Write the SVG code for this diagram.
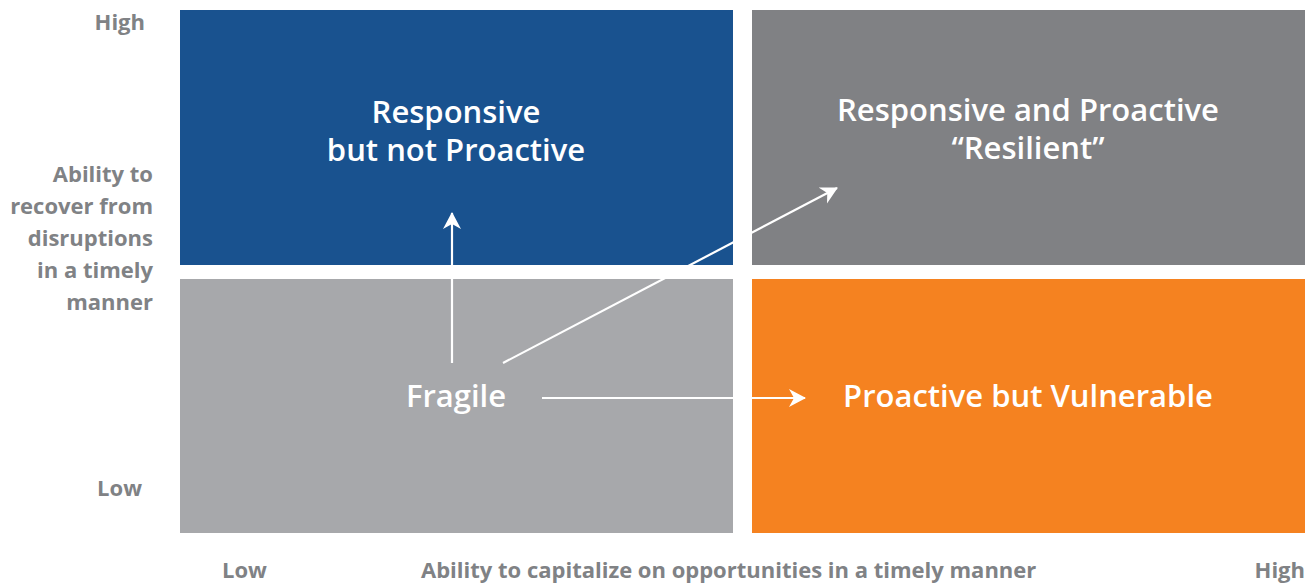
<svg xmlns="http://www.w3.org/2000/svg" width="1316" height="583" viewBox="0 0 1316 583">
<style>
.q{font-family:"Open Sans","Liberation Sans",sans-serif;font-weight:600;font-size:31px;fill:#fff;text-anchor:middle}
.ax{font-family:"Open Sans","Liberation Sans",sans-serif;font-weight:700;font-size:22px;fill:#808285}
.r{text-anchor:end}
.c{stroke:#fff;stroke-width:2.2;fill:none}
</style>
<defs>
<marker id="ah" markerWidth="20" markerHeight="20" refX="16" refY="9" orient="auto" markerUnits="userSpaceOnUse">
<path d="M0,0 L17,9 L0,18 L5,9 Z" fill="#fff"/>
</marker>
</defs>
<rect width="1316" height="583" fill="#fff"/>
<g id="q-responsive">
<rect x="180" y="10" width="553" height="255" fill="#19528f"/>
<text class="q" x="456" y="123">Responsive</text>
<text class="q" x="456" y="161">but not Proactive</text>
</g>
<g id="q-resilient">
<rect x="752" y="10" width="553" height="255" fill="#808184"/>
<text class="q" x="1028" y="121">Responsive and Proactive</text>
<text class="q" x="1028" y="159">“Resilient”</text>
</g>
<g id="q-fragile">
<rect x="180" y="279" width="553" height="254" fill="#a7a8ab"/>
<text class="q" x="456" y="407">Fragile</text>
</g>
<g id="q-vulnerable">
<rect x="752" y="279" width="553" height="254" fill="#f58220"/>
<text class="q" x="1028" y="407">Proactive but Vulnerable</text>
</g>
<g id="connectors">
<line class="c" x1="452" y1="363" x2="452" y2="213" marker-end="url(#ah)"/>
<line class="c" x1="503" y1="363" x2="837" y2="188" marker-end="url(#ah)"/>
<line class="c" x1="542" y1="398" x2="805" y2="398" marker-end="url(#ah)"/>
</g>
<g id="y-axis">
<text class="ax r" x="145" y="30">High</text>
<text class="ax r" x="153" y="182">Ability to</text>
<text class="ax r" x="153" y="214">recover from</text>
<text class="ax r" x="153" y="246">disruptions</text>
<text class="ax r" x="153" y="278">in a timely</text>
<text class="ax r" x="153" y="310">manner</text>
<text class="ax r" x="142" y="496">Low</text>
</g>
<g id="x-axis">
<text class="ax" x="222" y="578">Low</text>
<text class="ax" x="421" y="578">Ability to capitalize on opportunities in a timely manner</text>
<text class="ax r" x="1305" y="578">High</text>
</g>
</svg>
